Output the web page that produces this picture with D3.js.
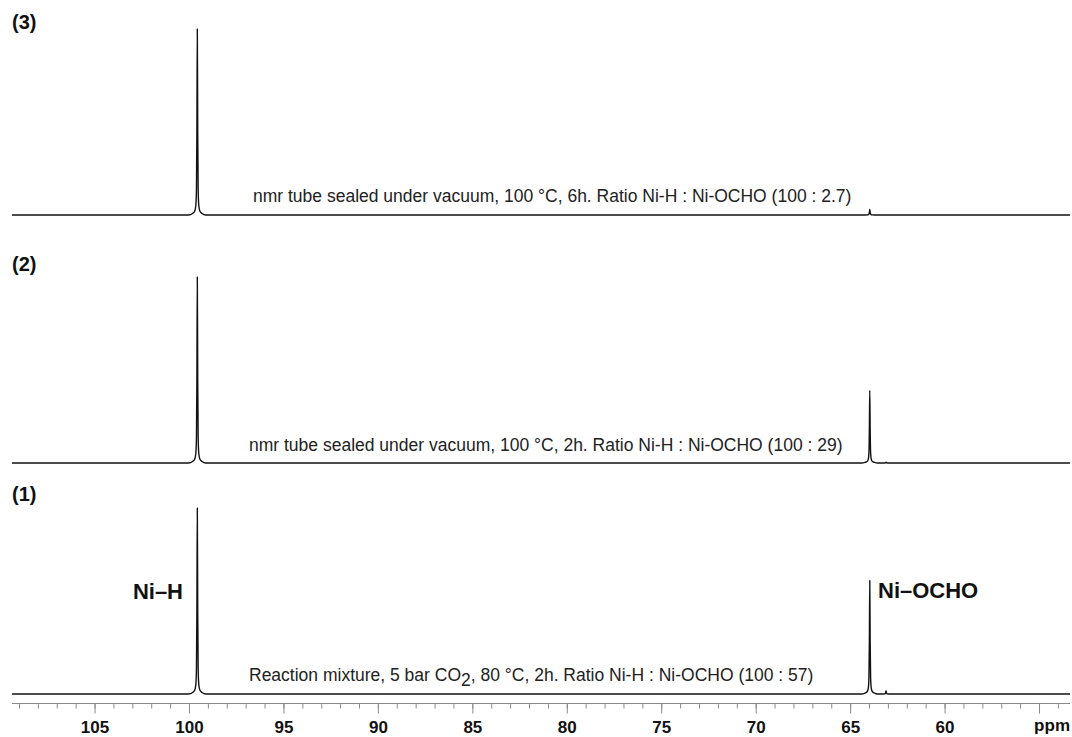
<!DOCTYPE html>
<html><head><meta charset="utf-8">
<script src="https://cdn.jsdelivr.net/npm/d3@7"></script>
<style>
html,body{margin:0;padding:0;background:#fff;}
svg{display:block;font-family:"Liberation Sans",Arial,Helvetica,sans-serif;}
</style></head>
<body>
<svg id="chart" width="1072" height="737"></svg>
<script>
// ---- data (ppm, relative intensity; Ni-H peak = 1) ----
const peakShape = [ // offset from peak centre (ppm), fraction of peak height
  [-0.45,0],[-0.25,0.008],[-0.14,0.02],[-0.08,0.05],[-0.045,0.14],[-0.022,0.45],[0,1],
  [0.022,0.45],[0.045,0.14],[0.08,0.05],[0.14,0.02],[0.25,0.008],[0.45,0]
];
const spectrumLabels = ["(1)", "(2)", "(3)"];
const niHppm = 99.56;
const ochoPpm = 63.96;
const minorPpm = 63.10;
const niHHeights = [1.0, 1.0, 1.0];
const ochoHeights = [0.61, 0.39, 0.03];
const minorHeights = [0.016, 0.004, 0.0];
const annotations = [
  "Reaction mixture, 5 bar CO|2|, 80 °C, 2h. Ratio Ni-H : Ni-OCHO (100 : 57)",
  "nmr tube sealed under vacuum, 100 °C, 2h. Ratio Ni-H : Ni-OCHO (100 : 29)",
  "nmr tube sealed under vacuum, 100 °C, 6h. Ratio Ni-H : Ni-OCHO (100 : 2.7)"
];
const majorTicks = [105, 100, 95, 90, 85, 80, 75, 70, 65, 60, 55];
const majorLabels = ["105","100","95","90","85","80","75","70","65","60",""];
const minorTicks = d3.range(54, 110, 1);
const ppmDomain = [109.37, 53.36];

// ---- layout ----
const svg = d3.select("#chart");
const x = d3.scaleLinear().domain(ppmDomain).range([12, 1070]);
const baselines = [694, 463, 215];
const peakPx = 186;

function buildSpectrum(i){
  const pts = [[ppmDomain[0], 0]];
  const add = (c, h) => { if (h > 0) peakShape.forEach(p => pts.push([c - p[0], p[1]*h])); };
  add(niHppm, niHHeights[i]);
  add(ochoPpm, ochoHeights[i]);
  add(minorPpm, minorHeights[i]);
  pts.push([ppmDomain[1], 0]);
  pts.sort((a,b) => b[0]-a[0]);
  return pts;
}

baselines.forEach((b, i) => {
  const y = d3.scaleLinear().domain([0, 1]).range([b, b - peakPx]);
  const line = d3.line().x(d => x(d[0])).y(d => y(d[1])).curve(d3.curveMonotoneX);
  svg.append("path").datum(buildSpectrum(i))
    .attr("d", line).attr("fill", "none")
    .attr("stroke", "#111").attr("stroke-width", 1.4).attr("stroke-linejoin","round");
});

// spectrum numbers
const labelY = [501, 271, 29];
spectrumLabels.forEach((t, i) => {
  svg.append("text").attr("x", 12).attr("y", labelY[i])
    .attr("font-size", 20).attr("font-weight", "bold").attr("fill", "#111").text(t);
});

// annotations
const annX = [249, 249, 253];
const annY = [681, 451, 202];
annotations.forEach((s, i) => {
  const t = svg.append("text").attr("x", annX[i]).attr("y", annY[i])
    .attr("font-size", 17.5).attr("fill", "#222");
  s.split("|").forEach((part, k) => {
    const ts = t.append("tspan").text(part);
    if (k === 1) ts.attr("dy", 5);
    if (k === 2) ts.attr("dy", -5);
  });
});

// peak labels
svg.append("text").attr("x", 183).attr("y", 599).attr("text-anchor", "end")
  .attr("font-size", 22).attr("font-weight", "bold").attr("fill", "#111").text("Ni–H");
svg.append("text").attr("x", 878).attr("y", 598)
  .attr("font-size", 22).attr("font-weight", "bold").attr("fill", "#111").text("Ni–OCHO");

// axis
const axisY = 703.5;
const gMinor = svg.append("g").attr("transform", `translate(0,${axisY})`)
  .call(d3.axisBottom(x).tickValues(minorTicks).tickSize(5).tickFormat(""));
const gMajor = svg.append("g").attr("transform", `translate(0,${axisY})`)
  .call(d3.axisBottom(x).tickValues(majorTicks).tickSize(10).tickPadding(7)
    .tickFormat((d, i) => majorLabels[i]));
[gMinor, gMajor].forEach(g => {
  g.select(".domain").attr("stroke", "#8a8a8a").attr("stroke-width", 1.2)
    .attr("d", `M${x.range()[0]},0H${x.range()[1]}`);
  g.selectAll(".tick line").attr("stroke", "#8a8a8a").attr("stroke-width", 1);
});
gMajor.selectAll(".tick text").attr("font-size", 17).attr("font-weight", "bold")
  .attr("fill", "#111").attr("font-family", "Liberation Sans, Arial, sans-serif");
svg.append("text").attr("x", 1070).attr("y", 731).attr("text-anchor", "end")
  .attr("font-size", 17).attr("font-weight", "bold").attr("fill", "#111").text("ppm");
</script>
</body></html>
